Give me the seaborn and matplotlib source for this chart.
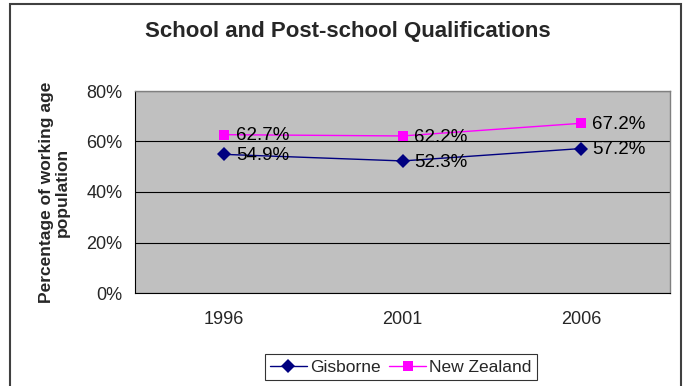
import matplotlib
matplotlib.use("Agg")
import matplotlib.pyplot as plt
import matplotlib.patches as mpatches
import matplotlib.ticker as mticker
import seaborn as sns
import pandas as pd

years = ["1996", "2001", "2006"]
gisborne = [54.9, 52.3, 57.2]
new_zealand = [62.7, 62.2, 67.2]
series_names = ["Gisborne", "New Zealand"]

sns.set_style("white")
plt.rcParams["font.family"] = ["Liberation Sans", "DejaVu Sans"]

df = pd.DataFrame({
    "pos": list(range(len(years))) * 2,
    "value": gisborne + new_zealand,
    "series": [series_names[0]] * len(years) + [series_names[1]] * len(years),
})

W, H = 683, 386
fig = plt.figure(figsize=(W / 100, H / 100), dpi=100)
ax = fig.add_axes([135 / W, 1 - 293 / H, (670 - 135) / W, (293 - 91) / H])

colors = {"Gisborne": "#000080", "New Zealand": "#FF00FF"}
markers = {"Gisborne": "D", "New Zealand": "s"}
sns.lineplot(data=df, x="pos", y="value", hue="series", style="series",
             palette=colors, markers=markers, dashes=False, linewidth=1.0,
             markersize=7, markeredgewidth=0, ax=ax, legend=False)

# value labels beside each point
for name, vals in zip(series_names, [gisborne, new_zealand]):
    for i, v in enumerate(vals):
        ax.text(i + 0.065, v - 0.5, f"{v:.1f}%", fontsize=13.5, va="center",
                ha="left", color="black")

ax.set_facecolor("#C0C0C0")
ax.set_xlim(-0.5, len(years) - 0.5)
ax.set_ylim(0, 80)
ax.yaxis.set_major_locator(mticker.MultipleLocator(20))
ax.yaxis.set_major_formatter(mticker.FuncFormatter(lambda v, p: f"{v:.0f}%"))
ax.set_xticks(range(len(years)))
ax.set_xticklabels(years)
ax.set_xticks([i - 0.5 for i in range(len(years) + 1)], minor=True)
ax.tick_params(axis="x", which="major", length=0, pad=13, labelsize=13)
ax.tick_params(axis="x", which="minor", length=4, width=0.8, direction="out")
ax.tick_params(axis="y", length=4, width=0.8, direction="out", pad=5, labelsize=13)
ax.yaxis.grid(True, color="black", linewidth=0.8)
ax.set_axisbelow(True)
for s in ["left", "bottom"]:
    ax.spines[s].set_color("black")
    ax.spines[s].set_linewidth(0.8)
for s in ["top", "right"]:
    ax.spines[s].set_color("#808080")
    ax.spines[s].set_linewidth(1.0)
ax.set_xlabel("")
ax.set_ylabel("Percentage of working age\npopulation", fontsize=12.5,
              fontweight="bold", labelpad=12, linespacing=1.05)

fig.text(348 / W, 1 - 32 / H, "School and Post-school Qualifications",
         ha="center", va="center", fontsize=16, fontweight="bold")

handles = [
    plt.Line2D([], [], color=colors[n], marker=markers[n], markersize=7,
               markeredgewidth=0, linewidth=1.0) for n in series_names
]
leg = fig.legend(handles, series_names, loc="center",
                 bbox_to_anchor=(401 / W, 1 - 367 / H), ncol=2, fontsize=12.5,
                 frameon=True, fancybox=False, edgecolor="black",
                 handlelength=2.1, columnspacing=0.5, handletextpad=0.2,
                 borderpad=0.3, borderaxespad=0)
leg.get_frame().set_linewidth(0.8)

# outer chart border
fig.patches.append(mpatches.Rectangle((10 / W, -0.1), (681 - 10) / W, 1.1 - 4 / H,
                                      transform=fig.transFigure, fill=False,
                                      edgecolor="#404040", linewidth=1.5))

fig.savefig("out.png", dpi=100)
